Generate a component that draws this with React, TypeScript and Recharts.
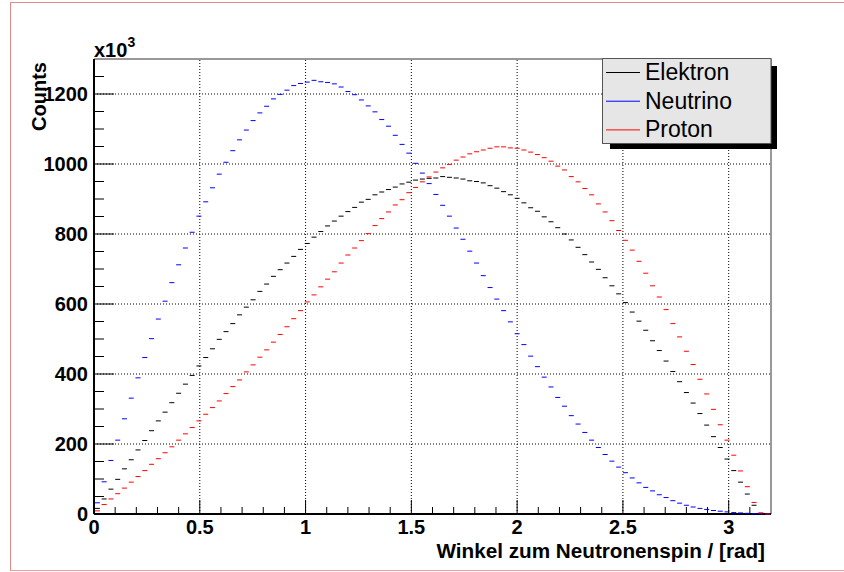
import React from 'react';
import { ComposedChart, Scatter, XAxis, YAxis, ReferenceLine } from 'recharts';

// 100 bins from 0 to 3.2 rad, counts in units of 10^3
const BIN_W = 0.032;

const ELEKTRON = [
  16, 43, 71, 99, 129, 155, 183, 210, 238, 266,
  291, 318, 345, 371, 396, 423, 447, 472, 499, 521,
  544, 569, 591, 612, 636, 657, 679, 698, 717, 736,
  756, 773, 791, 807, 823, 837, 851, 864, 876, 891,
  899, 912, 920, 927, 934, 943, 948, 954, 957, 959,
  960, 964, 962, 960, 957, 952, 950, 946, 938, 931,
  921, 912, 902, 889, 875, 865, 849, 835, 818, 800,
  783, 762, 741, 720, 699, 675, 652, 629, 604, 577,
  551, 525, 495, 467, 437, 407, 378, 347, 317, 287,
  254, 221, 190, 157, 124, 91, 57, 25, 2, 0,
];

const NEUTRINO = [
  32, 92, 153, 211, 272, 331, 389, 447, 501, 557,
  608, 661, 712, 760, 805, 851, 892, 932, 971, 1005,
  1038, 1069, 1097, 1124, 1146, 1165, 1186, 1199, 1211, 1224,
  1230, 1234, 1239, 1235, 1233, 1229, 1220, 1207, 1198, 1183,
  1166, 1149, 1127, 1108, 1082, 1056, 1031, 1002, 974, 944,
  913, 882, 851, 817, 785, 751, 717, 681, 647, 614,
  581, 549, 515, 484, 451, 421, 391, 363, 333, 308,
  281, 257, 233, 211, 190, 170, 151, 134, 118, 103,
  89, 76, 66, 55, 47, 38, 31, 25, 20, 16,
  13, 10, 8, 6, 4, 3, 2, 1, 0.5, 0,
];

const PROTON = [
  9, 27, 43, 58, 74, 91, 107, 124, 142, 158,
  175, 192, 211, 229, 247, 266, 285, 304, 323, 344,
  364, 383, 406, 426, 448, 469, 491, 513, 535, 558,
  581, 606, 626, 649, 671, 692, 717, 740, 760, 781,
  801, 824, 844, 863, 883, 898, 918, 933, 949, 963,
  977, 989, 999, 1011, 1020, 1029, 1035, 1040, 1045, 1049,
  1049, 1046, 1045, 1040, 1034, 1027, 1018, 1008, 994, 983,
  964, 949, 930, 912, 886, 863, 838, 810, 782, 754,
  722, 688, 652, 620, 584, 544, 506, 465, 427, 385,
  343, 299, 255, 211, 168, 123, 78, 33, 3, 0,
];

const SERIES = [
  { name: 'Elektron', values: ELEKTRON, color: '#000000' },
  { name: 'Neutrino', values: NEUTRINO, color: '#0000ff' },
  { name: 'Proton', values: PROTON, color: '#ff0000' },
];

const X_TICKS = [
  0, 0.1, 0.2, 0.3, 0.4, 0.5, 0.6, 0.7, 0.8, 0.9,
  1, 1.1, 1.2, 1.3, 1.4, 1.5, 1.6, 1.7, 1.8, 1.9,
  2, 2.1, 2.2, 2.3, 2.4, 2.5, 2.6, 2.7, 2.8, 2.9,
  3, 3.1,
];
const X_LABELS = [0, 0.5, 1, 1.5, 2, 2.5, 3];
const Y_TICKS = [
  0, 50, 100, 150, 200, 250, 300, 350, 400, 450, 500, 550, 600, 650,
  700, 750, 800, 850, 900, 950, 1000, 1050, 1100, 1150, 1200, 1250,
];
const Y_LABELS = [0, 200, 400, 600, 800, 1000, 1200];

const FONT = "'Liberation Sans', Arial, Helvetica, sans-serif";

const isLabel = (list: number[], v: number) => list.some((l) => Math.abs(l - v) < 1e-6);

function XTick(props: any) {
  const { x, y, payload } = props;
  const major = isLabel(X_LABELS, payload.value);
  return (
    <g>
      <line x1={x} x2={x} y1={y} y2={y - (major ? 14 : 7)} stroke="#000" strokeWidth={1} />
      {major && (
        <text x={x} y={y + 20} textAnchor="middle" fontFamily={FONT} fontWeight="bold" fontSize={20} fill="#000">
          {String(payload.value)}
        </text>
      )}
    </g>
  );
}

function YTick(props: any) {
  const { x, y, payload } = props;
  const major = isLabel(Y_LABELS, payload.value);
  return (
    <g>
      <line x1={x} x2={x + (major ? 20 : 10)} y1={y} y2={y} stroke="#000" strokeWidth={1} />
      {major && (
        <text x={x - 6} y={y + 7} textAnchor="end" fontFamily={FONT} fontWeight="bold" fontSize={20} fill="#000">
          {String(payload.value)}
        </text>
      )}
    </g>
  );
}

const dash = (color: string) => (props: any) => (
  <line x1={props.cx - 2.5} x2={props.cx + 2.5} y1={props.cy} y2={props.cy} stroke={color} strokeWidth={1} />
);

export default function App() {
  const series = SERIES.map((s) => ({
    ...s,
    data: s.values.map((v, i) => ({ x: (i + 0.5) * BIN_W, y: v })),
  }));

  return (
    <div style={{ position: 'absolute', left: 0, top: 0, width: 844, height: 572, overflow: 'hidden', background: '#fff' }}>
      <div
        style={{
          position: 'absolute', left: 10, top: 2, width: 860, height: 567,
          borderLeft: '1px solid #e08a8a', borderTop: '1px solid #e08a8a', borderBottom: '1px solid #eea0a0',
        }}
      />
      <ComposedChart width={844} height={572} margin={{ top: 59, right: 73, bottom: 28, left: 34 }}>
        <XAxis
          type="number"
          dataKey="x"
          domain={[0, 3.2]}
          ticks={X_TICKS}
          interval={0}
          height={30}
          tickSize={0}
          tickMargin={0}
          tickLine={false}
          axisLine={{ stroke: '#000', strokeWidth: 2 }}
          tick={<XTick />}
        />
        <YAxis
          type="number"
          dataKey="y"
          domain={[0, 1300]}
          ticks={Y_TICKS}
          interval={0}
          width={60}
          tickSize={0}
          tickMargin={0}
          tickLine={false}
          axisLine={{ stroke: '#000', strokeWidth: 2 }}
          tick={<YTick />}
        />
        {Y_LABELS.filter((v) => v > 0).map((v) => (
          <ReferenceLine key={'gy' + v} y={v} stroke="#000" strokeDasharray="1 2" />
        ))}
        {X_LABELS.filter((v) => v > 0).map((v) => (
          <ReferenceLine key={'gx' + v} x={v} stroke="#000" strokeDasharray="1 2" />
        ))}
        <ReferenceLine y={1300} stroke="#3a3030" />
        <ReferenceLine x={3.2} stroke="#3a3030" />
        {series.map((s) => (
          <Scatter key={s.name} name={s.name} data={s.data} isAnimationActive={false} shape={dash(s.color)} />
        ))}
      </ComposedChart>
      <svg width={844} height={572} style={{ position: 'absolute', left: 0, top: 0, pointerEvents: 'none' }}>
        <text x={94} y={57} fontFamily={FONT} fontWeight="bold" fontSize={20} fill="#000">
          x10<tspan fontSize={14} dy={-10}>3</tspan>
        </text>
        <text transform="translate(46,62) rotate(-90)" textAnchor="end" fontFamily={FONT} fontWeight="bold" fontSize={20} fill="#000">
          Counts
        </text>
        <text x={765} y={558} textAnchor="end" fontFamily={FONT} fontWeight="bold" fontSize={20.7} fill="#000">
          Winkel zum Neutronenspin / [rad]
        </text>
        <rect x={610} y={66} width={167} height={83} fill="#000" />
        <rect x={602.5} y={58.5} width={168.5} height={85} fill="#e6e6e6" stroke="#555" strokeWidth={1} />
        {SERIES.map((s, i) => (
          <g key={s.name}>
            <line x1={606} x2={640} y1={72.5 + i * 28.7} y2={72.5 + i * 28.7} stroke={s.color} strokeWidth={1} />
            <text x={645} y={80 + i * 28.7} fontFamily={FONT} fontSize={23} fill="#000">
              {s.name}
            </text>
          </g>
        ))}
      </svg>
    </div>
  );
}
